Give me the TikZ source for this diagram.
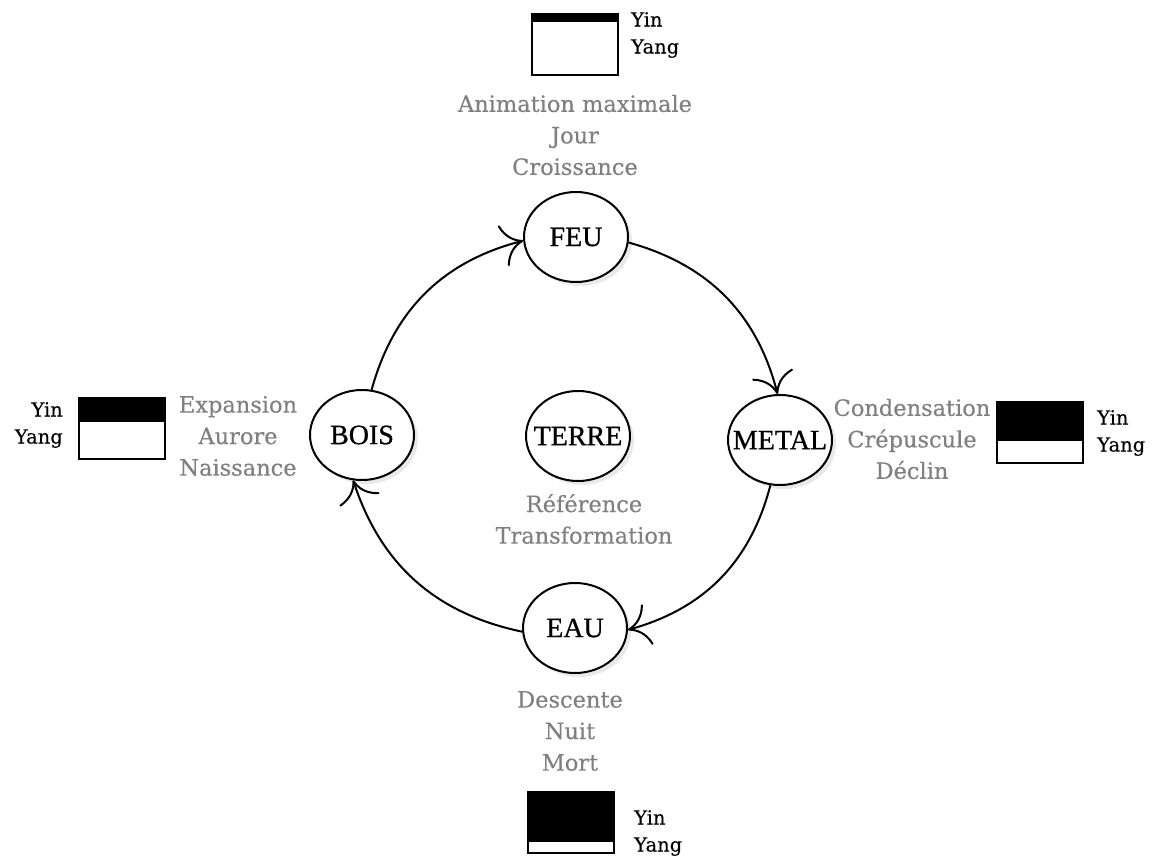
\documentclass[tikz,border=0pt]{standalone}
\usepackage{fontspec}
\setmainfont{DejaVu Serif}[FakeBold=0.3]
\newfontfamily\elemfont{Liberation Serif}[FakeBold=0.8]
\usetikzlibrary{arrows.meta,shapes.geometric,shadows}
\begin{document}
\begin{tikzpicture}[x=1pt,y=-1pt,
  elem/.style={ellipse,draw,line width=2pt,fill=white,minimum width=104pt,minimum height=90pt,inner sep=0pt,
    font=\elemfont\fontsize{28}{30}\selectfont,
    drop shadow={shadow xshift=4pt,shadow yshift=-4pt,fill=black!12,opacity=0.7}},
  note/.style={text=gray,align=center,inner sep=0pt,font=\fontsize{22.5}{31.5}\selectfont},
  yylab/.style={inner sep=0pt,font=\fontsize{19.5}{27}\selectfont},
  yybox/.style={draw,line width=2pt,minimum width=86pt,minimum height=61pt,inner sep=0pt},
  cyc/.style={line width=2pt,-{Computer Modern Rightarrow[length=21pt,width=42pt,line width=2pt]},bend left=30}
]
\useasboundingbox (0,0) rectangle (1152,856);

% elements
\node[elem] (feu)   at (576,237) {\makebox[0pt]{FEU}};
\node[elem] (bois)  at (362,435) {\makebox[0pt]{BOIS}};
\node[elem] (metal) at (780,440) {\makebox[0pt]{METAL}};
\node[elem] (eau)   at (575,628) {\makebox[0pt]{EAU}};
\node[elem] (terre) at (578,436) {\makebox[0pt]{TERRE}};

% cycle arrows
\draw[cyc] (bois.78)   to (feu.184);
\draw[cyc] (feu.-6)    to (metal.93);
\draw[cyc] (metal.258) to (eau.-2);
\draw[cyc] (eau.184)   to (bois.259);

% descriptions
\node[note] (nfeu)   at (575,135) {Animation maximale\\Jour\\Croissance};
\node[note] (nbois)  at (238,436) {Expansion\\Aurore\\Naissance};
\node[note] (nmetal) at (912,439) {Condensation\\Crépuscule\\Déclin};
\node[note] (nterre) at (584,519) {Référence\\Transformation};
\node[note] (neau)   at (570,731) {Descente\\Nuit\\Mort};

% yin-yang boxes
\node[yybox] (yyT) at (575,44.5) {};
\fill (yyT.north west) rectangle ([yshift=-9pt]yyT.north east);
\node[yylab,anchor=west,align=left] (lT) at (631,35) {Yin\\Yang};

\node[yybox] (yyL) at (122,428) {};
\fill (yyL.north west) rectangle ([yshift=-25pt]yyL.north east);
\node[yylab,anchor=east,align=right] (lL) at (63,425) {Yin\\Yang};

\node[yybox] (yyR) at (1040,432.5) {};
\fill (yyR.north west) rectangle ([yshift=-40pt]yyR.north east);
\node[yylab,anchor=west,align=left] (lR) at (1097,433) {Yin\\Yang};

\node[yybox] (yyB) at (570.5,822.5) {};
\fill (yyB.north west) rectangle ([yshift=-51pt]yyB.north east);
\node[yylab,anchor=west,align=left] (lB) at (634,833) {Yin\\Yang};
\end{tikzpicture}
\end{document}
